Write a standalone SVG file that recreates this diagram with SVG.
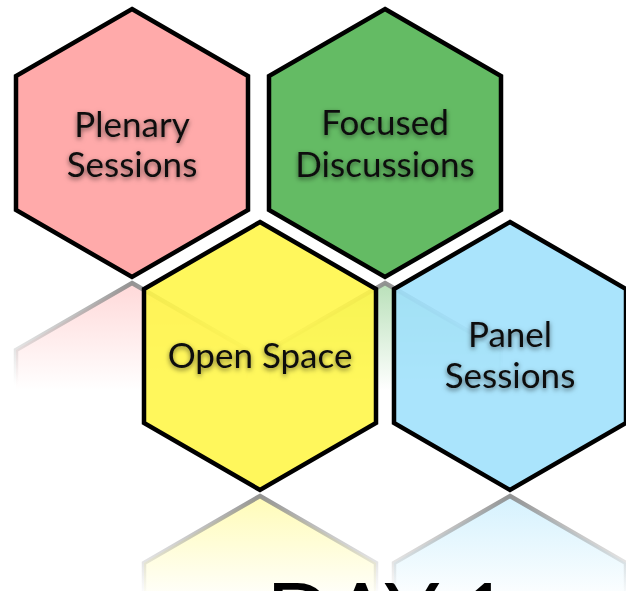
<svg xmlns="http://www.w3.org/2000/svg" xmlns:xlink="http://www.w3.org/1999/xlink" width="626" height="591" viewBox="0 0 626 591">
<defs>
<style>
.hex{stroke:#000;stroke-width:4.5;stroke-linejoin:miter;fill-opacity:0.88}
.lbl{font-family:Lato,"Open Sans","Liberation Sans",sans-serif;font-size:35px;fill:#111;text-anchor:middle;filter:url(#glow)}
.refl{stroke-width:4.5;stroke-linejoin:miter}
</style>
<filter id="glow" x="-20%" y="-40%" width="140%" height="180%">
<feDropShadow dx="0" dy="2" stdDeviation="2.5" flood-color="#000" flood-opacity="0.55"/>
</filter>
<linearGradient id="rs" x1="0" y1="0" x2="0" y2="1">
<stop offset="0" stop-color="#888" stop-opacity="0.9"/>
<stop offset="0.38" stop-color="#bbb" stop-opacity="0"/>
</linearGradient>
<linearGradient id="rpink" x1="0" y1="0" x2="0" y2="1">
<stop offset="0" stop-color="#FFAAAA" stop-opacity="0.45"/>
<stop offset="0.4" stop-color="#FFAAAA" stop-opacity="0"/>
</linearGradient>
<linearGradient id="rgreen" x1="0" y1="0" x2="0" y2="1">
<stop offset="0" stop-color="#64BB64" stop-opacity="0.45"/>
<stop offset="0.4" stop-color="#64BB64" stop-opacity="0"/>
</linearGradient>
<linearGradient id="ryellow" x1="0" y1="0" x2="0" y2="1">
<stop offset="0" stop-color="#FFF75F" stop-opacity="0.45"/>
<stop offset="0.4" stop-color="#FFF75F" stop-opacity="0"/>
</linearGradient>
<linearGradient id="rblue" x1="0" y1="0" x2="0" y2="1">
<stop offset="0" stop-color="#AAE4FC" stop-opacity="0.5"/>
<stop offset="0.4" stop-color="#AAE4FC" stop-opacity="0"/>
</linearGradient>
</defs>
<rect width="626" height="591" fill="#fff"/>
<g id="reflections">
<polygon class="refl" fill="url(#rpink)" stroke="url(#rs)" points="132,283 248,350 248,484 132,551 16,484 16,350"/>
<polygon class="refl" fill="url(#rgreen)" stroke="url(#rs)" points="385,283 501,350 501,484 385,551 269,484 269,350"/>
<polygon class="refl" fill="url(#ryellow)" stroke="url(#rs)" points="260,496 376,563 376,697 260,764 144,697 144,563"/>
<polygon class="refl" fill="url(#rblue)" stroke="url(#rs)" points="510,496 626,563 626,697 510,764 394,697 394,563"/>
</g>
<g id="plenary">
<polygon class="hex" fill="#FF9E9E" points="132,9 248,76 248,210 132,277 16,210 16,76"/>
<text class="lbl" x="132" y="137">Plenary</text>
<text class="lbl" x="132" y="177">Sessions</text>
</g>
<g id="focused">
<polygon class="hex" fill="#4FB24F" points="385,9 501,76 501,210 385,277 269,210 269,76"/>
<text class="lbl" x="385" y="135">Focused</text>
<text class="lbl" x="385" y="177">Discussions</text>
</g>
<g id="openspace">
<polygon class="hex" fill="#FFF646" points="260,222 376,289 376,423 260,490 144,423 144,289"/>
<text class="lbl" x="260" y="368">Open Space</text>
</g>
<g id="panel">
<polygon class="hex" fill="#9EE0FC" points="510,222 626,289 626,423 510,490 394,423 394,289"/>
<text class="lbl" x="510" y="347">Panel</text>
<text class="lbl" x="510" y="388">Sessions</text>
</g>
<g id="day">
<text x="266" y="646" font-family="Lato,'Open Sans','Liberation Sans',sans-serif" font-size="88" fill="#000">DAY 1</text>
</g>
</svg>
